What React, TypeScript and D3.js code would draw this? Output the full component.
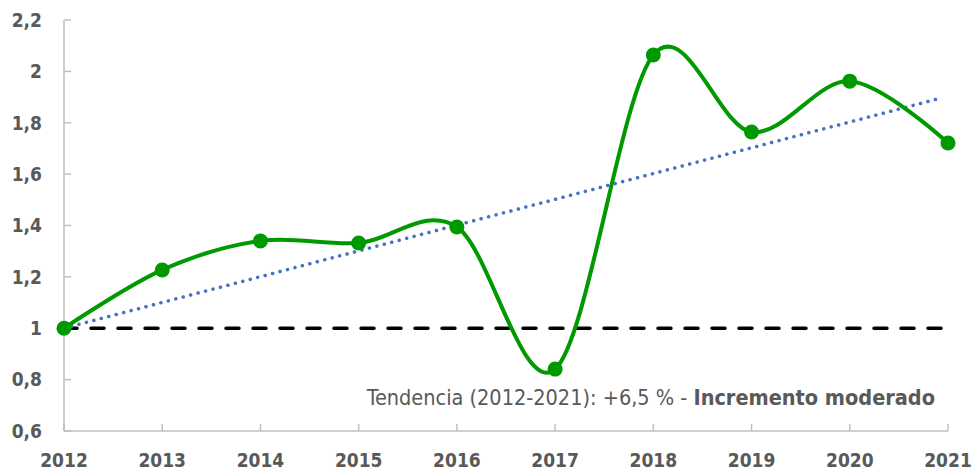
import React from "react";
import * as d3 from "d3";

const years = [2012, 2013, 2014, 2015, 2016, 2017, 2018, 2019, 2020, 2021];
const values = [1.0, 1.227, 1.34, 1.332, 1.394, 0.841, 2.064, 1.764, 1.962, 1.721];
const yTicks = [0.6, 0.8, 1, 1.2, 1.4, 1.6, 1.8, 2, 2.2];
const baseline = 1;
const noteText = "Tendencia (2012-2021): +6,5 % - ";
const noteBold = "Incremento moderado";

const W = 974;
const H = 474;
const font = "'DejaVu Sans Condensed', Tahoma, 'DejaVu Sans', sans-serif";
const grey = "#595959";
const green = "#009900";

const App = () => {
  const x = d3.scaleLinear().domain([2012, 2021]).range([64, 948]);
  const y = d3.scaleLinear().domain([0.6, 2.2]).range([431, 20]);

  // excel-like smoothed line
  const line = d3
    .line<number>()
    .x((d, i) => x(years[i]))
    .y((d) => y(d))
    .curve(d3.curveCardinal.tension(0));

  // linear trend forced through the first value
  const xs = years.map((yr) => yr - years[0]);
  const sxy = d3.sum(xs, (t, i) => t * (values[i] - values[0]));
  const sxx = d3.sum(xs, (t) => t * t);
  const slope = sxy / sxx;
  const trendEnd = values[0] + slope * xs[xs.length - 1];

  const fmt = (v: number) => String(+v.toFixed(1)).replace(".", ",");

  return (
    <svg width={W} height={H} style={{ position: "absolute", left: 0, top: 0, background: "#fff" }}>
      {/* axes */}
      <line x1={x(2012)} x2={x(2012)} y1={y(2.2)} y2={y(0.6)} stroke="#bfbfbf" strokeWidth={1.5} />
      <line x1={x(2012)} x2={x(2021)} y1={y(0.6)} y2={y(0.6)} stroke="#bfbfbf" strokeWidth={1.5} />
      {yTicks.map((t) => (
        <g key={t}>
          <line x1={x(2012)} x2={x(2012) + 7} y1={y(t)} y2={y(t)} stroke="#bfbfbf" strokeWidth={1.5} />
          <text
            x={42}
            y={y(t)}
            dy="0.36em"
            textAnchor="end"
            fontFamily={font}
            fontWeight="bold"
            fontSize={19}
            fill={grey}
          >
            {fmt(t)}
          </text>
        </g>
      ))}
      {years.map((yr) => (
        <g key={yr}>
          <line x1={x(yr)} x2={x(yr)} y1={y(0.6)} y2={y(0.6) - 7} stroke="#bfbfbf" strokeWidth={1.5} />
          <text
            x={x(yr)}
            y={460}
            dy="0.36em"
            textAnchor="middle"
            fontFamily={font}
            fontWeight="bold"
            fontSize={19}
            fill={grey}
          >
            {yr}
          </text>
        </g>
      ))}

      {/* reference line at 1 */}
      <line
        x1={x(2012)}
        x2={x(2021)}
        y1={y(baseline)}
        y2={y(baseline)}
        stroke="#000"
        strokeWidth={3.5}
        strokeDasharray="13 14"
        strokeLinecap="round"
      />

      {/* trend */}
      <line
        x1={x(2012)}
        x2={x(2021) - 6}
        y1={y(values[0])}
        y2={y(values[0] + slope * (xs[xs.length - 1] - 6 / (x(2013) - x(2012))))}
        stroke="#4472c4"
        strokeWidth={3.5}
        strokeDasharray="0.1 7.6"
        strokeLinecap="round"
      />

      {/* series */}
      <path d={line(values) || ""} fill="none" stroke={green} strokeWidth={4} />
      {values.map((v, i) => (
        <circle key={i} cx={x(years[i])} cy={y(v)} r={7.5} fill={green} />
      ))}

      <text x={935} y={397} dy="0.36em" textAnchor="end" fontFamily={font} fontSize={21.5} fill={grey}>
        {noteText}
        <tspan fontWeight="bold">{noteBold}</tspan>
      </text>
    </svg>
  );
};

export default App;
